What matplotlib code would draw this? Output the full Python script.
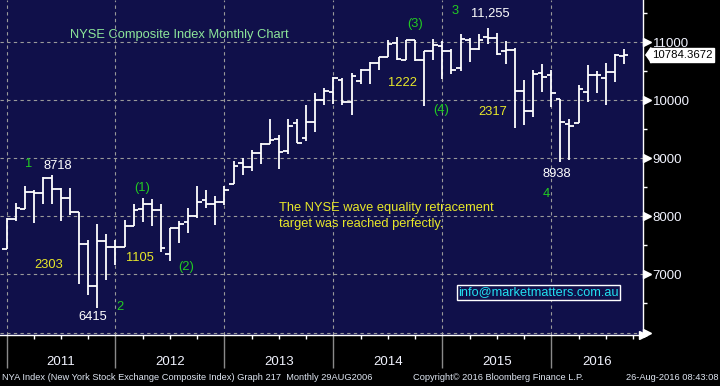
import matplotlib
matplotlib.use('Agg')
import matplotlib.pyplot as plt
import numpy as np

plt.rcParams['font.family'] = ['Liberation Sans', 'DejaVu Sans']

# monthly OHLC, Dec 2010 .. Aug 2016 (bar index 0 = Dec 2010, dated at month end)
opens = [7431, 7960, 8133, 8426, 8403, 8667, 8477, 8322, 8074, 7529, 6793, 7575,
         7477, 7477, 7840, 8133, 8207, 8116, 7357, 7805, 7897, 8012, 8276, 8219,
         8253, 8564, 8919, 8850, 9098, 9253, 9328, 9120, 9615, 9350, 9621, 10012,
         10150, 10356, 9966, 10333, 10529, 10643, 10753, 10994, 10701, 11046, 10690, 10845,
         10931, 10845, 10563, 11046, 10891, 11092, 11080, 10845, 10874, 10161, 9822, 10477,
         10437, 10017, 9600, 9615, 10138, 10443, 10391, 10489, 10770]
highs = [7975, 8236, 8517, 8450, 8680, 8718, 8490, 8494, 8080, 7586, 7862, 7690,
         7598, 7931, 8207, 8322, 8305, 8207, 7805, 7920, 8150, 8517, 8460, 8345,
         8517, 8948, 9000, 9138, 9271, 9684, 9408, 9684, 9678, 9914, 10132, 10219,
         10402, 10391, 10477, 10546, 10660, 10753, 11034, 11092, 11046, 11046, 10845, 11063,
         11023, 10891, 11138, 11075, 11150, 11255, 11167, 11023, 10908, 10356, 10529, 10632,
         10517, 10017, 9684, 10270, 10603, 10500, 10649, 10805, 10891]
lows = [7431, 7919, 8133, 7891, 8219, 8219, 7914, 8029, 6839, 6650, 6415, 6908,
        7155, 7477, 7840, 7902, 7833, 7385, 7230, 7540, 7713, 7971, 8150, 7857,
        8190, 8564, 8719, 8781, 8897, 9241, 8822, 9080, 9264, 9299, 9454, 9919,
        9931, 9914, 9753, 10276, 10276, 10517, 10753, 10701, 10690, 10678, 9902, 10690,
        10362, 10460, 10506, 10660, 10870, 10977, 10788, 10632, 9529, 9580, 9713, 10144,
        9885, 8938, 8966, 9615, 9971, 10127, 9926, 10316, 10621]
closes = [7964, 8140, 8426, 8403, 8667, 8477, 8322, 8074, 7529, 6793, 7575, 7477,
          7477, 7840, 8116, 8207, 8116, 7460, 7805, 7862, 8012, 8253, 8219, 8253,
          8448, 8874, 8850, 9098, 9253, 9310, 9109, 9563, 9264, 9621, 10012, 10167,
          10391, 9966, 10425, 10529, 10643, 10753, 10977, 10718, 11046, 10701, 10845, 10960,
          10845, 10529, 11063, 10891, 11046, 11080, 10805, 10874, 10161, 9810, 10460, 10402,
          10132, 9632, 9563, 10201, 10443, 10443, 10489, 10788, 10784.3672]

years = ['2011', '2012', '2013', '2014', '2015', '2016']
y_ticks = [6000, 7000, 8000, 9000, 10000, 11000]
y_labels = ['', '7000', '8000', '9000', '10000', '11000']

# wave annotations: (text, x month index, value, colour)
notes = [('1', 2.4, 8897, '#22cc22'), ('8718', 5.6, 8863, 'white'),
         ('(1)', 14.9, 8492, '#22cc22'), ('2303', 4.6, 7157, '#e8e82a'),
         ('1105', 14.65, 7278, '#e8e82a'), ('(2)', 19.8, 7123, '#22cc22'),
         ('6415', 9.5, 6261, 'white'), ('2', 12.5, 6434, '#22cc22'),
         ('(3)', 45.0, 11309, '#22cc22'), ('3', 49.4, 11539, '#22cc22'),
         ('11,255', 53.25, 11504, 'white'), ('1222', 43.6, 10298, '#e8e82a'),
         ('(4)', 47.9, 9828, '#22cc22'), ('2317', 53.5, 9798, '#e8e82a'),
         ('8938', 60.6, 8737, 'white'), ('4', 59.4, 8392, '#22cc22')]

x = np.arange(len(closes))
xmin, xmax = -0.72, 70.1
bounds = [0, 12, 24, 36, 48, 60]

fig = plt.figure(figsize=(7.2, 3.86), dpi=100, facecolor='black')
ax = fig.add_axes([0, 51 / 386, 643 / 720, 335 / 386])
ax.set_facecolor('#10104a')
ax.set_xlim(xmin, xmax)
ax.set_ylim(5957, 11729)

# OHLC bars
lw = 1.3
ax.vlines(x, lows, highs, color='white', lw=lw)
ax.hlines(opens, x - 0.5, x, color='white', lw=lw)
ax.hlines(closes, x, x + 0.5, color='white', lw=lw)

# grid
ax.set_yticks(y_ticks)
ax.set_yticklabels(y_labels)
ax.set_xticks(bounds)
ax.set_xticklabels([''] * len(bounds))
ax.grid(True, color='#9a9a9a', lw=0.8, linestyle=(0, (3, 3)))
ax.set_axisbelow(True)

for s in ['top', 'left']:
    ax.spines[s].set_visible(False)
for s in ['right', 'bottom']:
    ax.spines[s].set_color('white')
    ax.spines[s].set_linewidth(1)

ax.yaxis.tick_right()
ax.set_yticks(np.arange(6500, 11600, 1000), minor=True)
ax.tick_params(axis='y', which='major', length=0, pad=7, labelsize=9.5, labelcolor='#f2f4ff')
ax.tick_params(axis='y', which='minor', length=3, color='white', width=1)
ax.set_xticks(np.arange(3, 70, 3), minor=True)
ax.tick_params(axis='x', which='major', length=24, color='#8a8a8a', width=1)
ax.tick_params(axis='x', which='minor', length=3, color='white', width=1)

# axis pointers
ax.plot([1.0055] * len(y_ticks), y_ticks, marker='>', ms=5.5, color='white', ls='none',
        transform=ax.get_yaxis_transform(), clip_on=False)
ax.plot([1.0], [0], marker='>', ms=6, color='white', transform=ax.transAxes, clip_on=False)

# year labels, centred on the visible part of each year
for b, yr in zip(bounds, years):
    cx = (b + min(b + 12, xmax)) / 2
    ax.text(cx, -0.081, yr, transform=ax.get_xaxis_transform(), ha='center', va='center',
            fontsize=9.5, color='#f2f4ff')

# last price tag
ax.plot([1.0035], [closes[-1]], marker=[(0, 0), (0.7, 1), (0.7, -1)], ms=11, color='white',
        transform=ax.get_yaxis_transform(), clip_on=False)
ax.text(1.014, closes[-1], '%.4f' % closes[-1], transform=ax.get_yaxis_transform(),
        ha='left', va='center', fontsize=8.2, color='black', clip_on=False,
        bbox=dict(boxstyle='square,pad=0.15', fc='white', ec='white'))

# texts
ax.text(6.99, 11120, 'NYSE Composite Index Monthly Chart', ha='left', va='center',
        fontsize=9.3, color='#8de69a')
for t, tx, ty, c in notes:
    ax.text(tx, ty, t, ha='center', va='center', fontsize=9.3, color=c)
ax.text(30.0, 8151, 'The NYSE wave equality retracement', ha='left', va='center',
        fontsize=9.3, color='#e8e82a')
ax.text(30.0, 7876, 'target was reached perfectly.', ha='left', va='center',
        fontsize=9.3, color='#e8e82a')
ax.text(58.6, 6692, 'info@marketmatters.com.au', ha='center', va='center', fontsize=9.2,
        color='#22e0f0', bbox=dict(boxstyle='square,pad=0.1', fc='#10104a', ec='white', lw=1))

# footer
fc = '#dfe6f2'
fig.text(2 / 720, 1 - 378 / 386, 'NYA Index (New York Stock Exchange Composite Index) Graph 217  Monthly 29AUG2006',
         ha='left', va='center', fontsize=6.7, color=fc)
fig.text(413 / 720, 1 - 378 / 386, 'Copyright\u00a9 2016 Bloomberg Finance L.P.',
         ha='left', va='center', fontsize=6.7, color=fc)
fig.text(718 / 720, 1 - 378 / 386, '26-Aug-2016 08:43:08',
         ha='right', va='center', fontsize=6.7, color=fc)

fig.savefig('out.png', dpi=100, facecolor='black')
